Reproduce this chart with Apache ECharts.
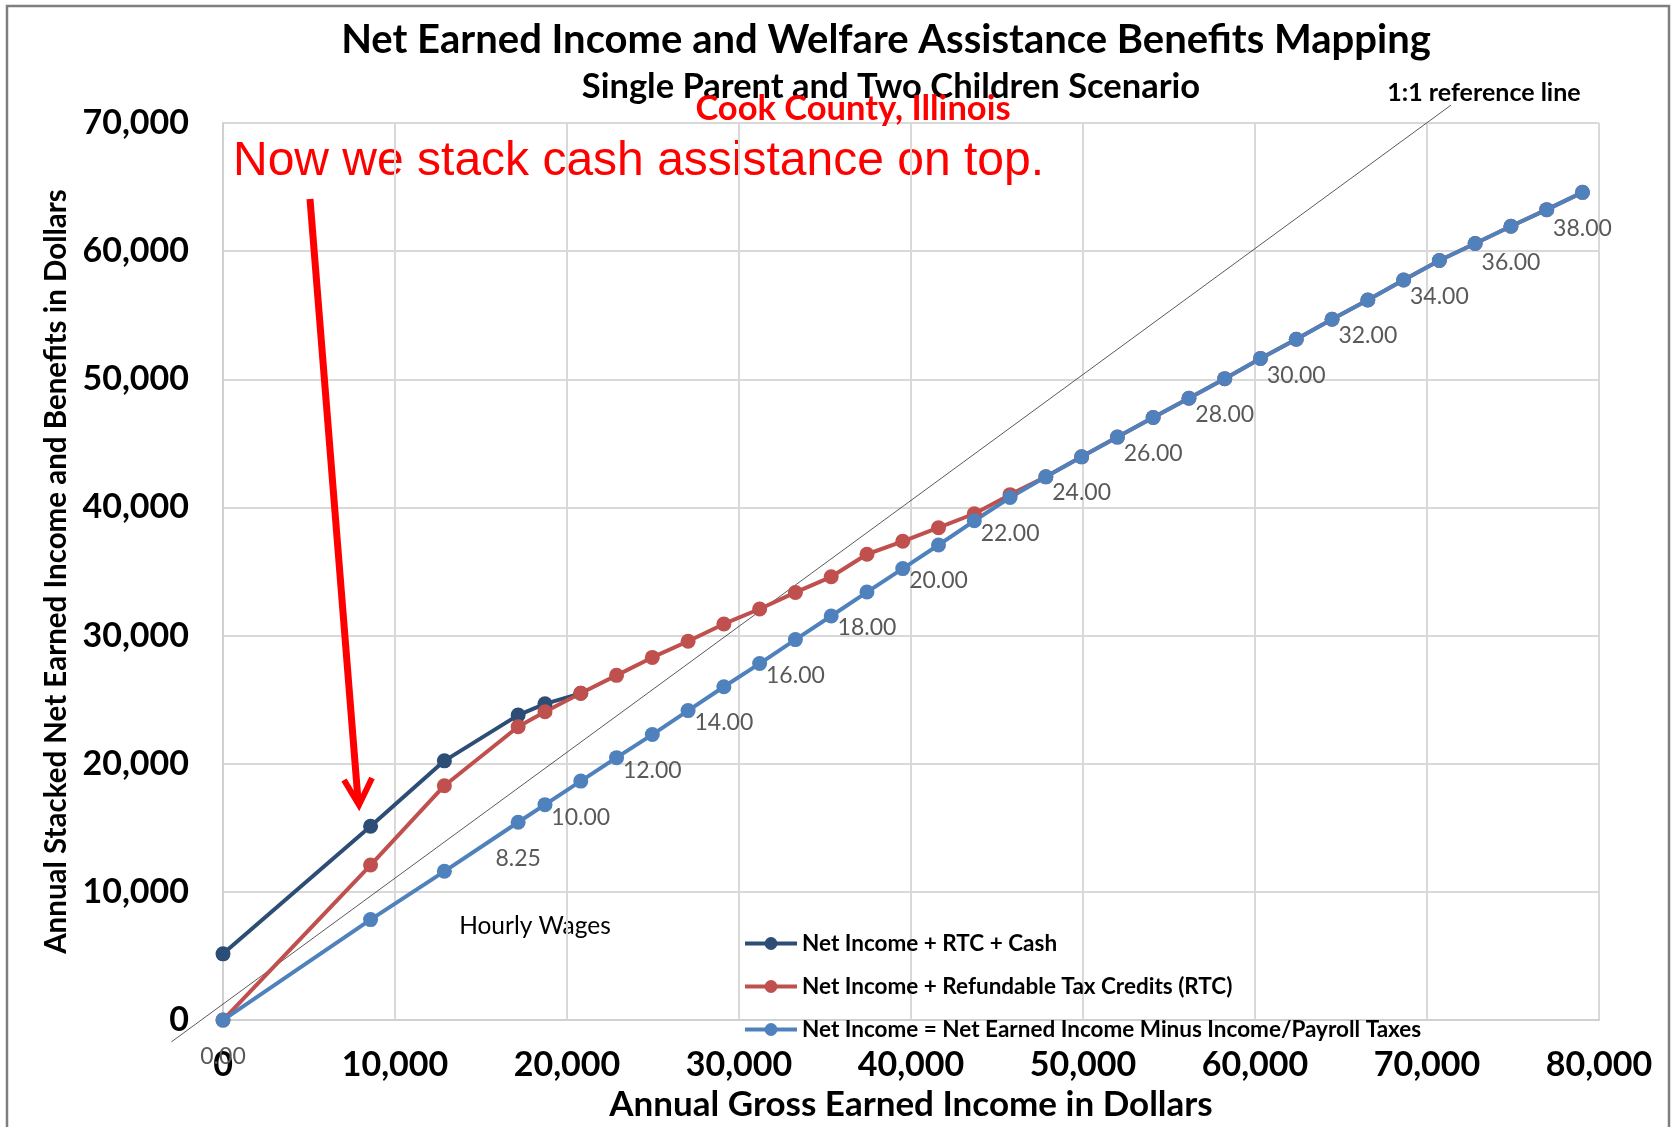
<!DOCTYPE html>
<html>
<head>
<meta charset="utf-8">
<title>Net Earned Income and Welfare Assistance Benefits Mapping</title>
<script src="https://cdn.jsdelivr.net/npm/echarts@6/dist/echarts.min.js"></script>
<style>
  html, body { margin: 0; padding: 0; background: #fff; }
  #main { width: 1671px; height: 1127px; }
</style>
</head>
<body>
<div id="main"></div>
<script>
// annual gross earned income (x) – same for all three series
var grossIncome = [0, 8580, 12870, 17160, 18720, 20800, 22880, 24960, 27040, 29120, 31200,
  33280, 35360, 37440, 39520, 41600, 43680, 45760, 47840, 49920, 52000, 54080, 56160,
  58240, 60320, 62400, 64480, 66560, 68640, 70720, 72800, 74880, 76960, 79040];

// Net Income = Net Earned Income Minus Income/Payroll Taxes
var netIncome = [0, 7840, 11610, 15440, 16810, 18650, 20480, 22280, 24150, 26010, 27820,
  29690, 31530, 33400, 35230, 37070, 38960, 40780, 42390, 43950, 45490, 47020, 48520,
  50050, 51630, 53130, 54690, 56190, 57750, 59270, 60600, 61940, 63240, 64590];

// Net Income + Refundable Tax Credits (RTC)
var netPlusRtc = [0, 12100, 18290, 22890, 24060, 25500, 26900, 28300, 29560, 30910, 32080,
  33370, 34590, 36350, 37360, 38420, 39510, 41000, 42390, 43950, 45490, 47020, 48520,
  50050, 51630, 53130, 54690, 56190, 57750, 59270, 60600, 61940, 63240, 64590];

// Net Income + RTC + Cash (only where it differs)
var netPlusRtcCash = [5170, 15130, 20230, 23800, 24680, 25500];

// hourly wage labels shown under the net income points
var wageLabels = ['0.00', '', '', '8.25', '', '10.00', '', '12.00', '', '14.00', '',
  '16.00', '', '18.00', '', '20.00', '', '22.00', '', '24.00', '', '26.00', '', '28.00', '',
  '30.00', '', '32.00', '', '34.00', '', '36.00', '', '38.00'];

// 1:1 reference line end points
var refLine = [[-3000, -1700], [71400, 71400]];

var xTicks = [0, 80000, 10000];   // min, max, interval
var yTicks = [0, 70000, 10000];

var seriesNames = ['Net Income + RTC + Cash',
  'Net Income + Refundable Tax Credits (RTC)',
  'Net Income = Net Earned Income Minus Income/Payroll Taxes'];

function pairs(ys) {
  return ys.map(function (y, i) { return [grossIncome[i], y]; });
}

var myChart = echarts.init(document.getElementById('main'));

var calibri = 'Lato, "Open Sans", sans-serif';

var option = {
  backgroundColor: '#ffffff',
  animation: false,
  grid: { left: 223, right: 72, top: 123, bottom: 102 },
  legend: {
    orient: 'vertical',
    left: 738,
    top: 927,
    padding: 5,
    itemWidth: 52,
    itemHeight: 16,
    itemGap: 20,
    lineStyle: { width: 4 },
    textStyle: { fontFamily: calibri, fontWeight: 'bold', fontSize: 22.5, color: '#000' },
    data: seriesNames
  },
  xAxis: {
    type: 'value',
    min: xTicks[0], max: xTicks[1], interval: xTicks[2],
    name: 'Annual Gross Earned Income in Dollars',
    nameLocation: 'middle',
    nameGap: 59,
    nameTextStyle: { fontFamily: calibri, fontWeight: 'bold', fontSize: 35, color: '#000' },
    axisLine: { show: true, lineStyle: { color: '#d0d0d0', width: 2 } },
    axisTick: { show: false },
    splitLine: { lineStyle: { color: '#d9d9d9', width: 2 } },
    axisLabel: {
      margin: 28,
      fontFamily: calibri, fontWeight: 'bold', fontSize: 34, color: '#000',
      formatter: function (v) { return v.toLocaleString('en-US'); }
    }
  },
  yAxis: {
    type: 'value',
    min: yTicks[0], max: yTicks[1], interval: yTicks[2],
    name: 'Annual Stacked Net Earned Income and Benefits in Dollars',
    nameLocation: 'middle',
    nameGap: 146,
    nameTextStyle: { fontFamily: calibri, fontWeight: 'bold', fontSize: 29.5, color: '#000' },
    axisLine: { show: true, lineStyle: { color: '#d0d0d0', width: 2 } },
    axisTick: { show: false },
    splitLine: { lineStyle: { color: '#d9d9d9', width: 2 } },
    axisLabel: {
      margin: 34,
      fontFamily: calibri, fontWeight: 'bold', fontSize: 34, color: '#000',
      formatter: function (v) { return v.toLocaleString('en-US'); }
    }
  },
  series: [
    {
      name: seriesNames[0],
      type: 'line',
      data: pairs(netPlusRtcCash),
      symbol: 'circle',
      symbolSize: 15,
      color: '#2C4D75',
      lineStyle: { width: 4 }
    },
    {
      name: seriesNames[1],
      type: 'line',
      data: pairs(netPlusRtc),
      symbol: 'circle',
      symbolSize: 15,
      color: '#C0504D',
      lineStyle: { width: 4 }
    },
    {
      name: seriesNames[2],
      type: 'line',
      data: pairs(netIncome),
      symbol: 'circle',
      symbolSize: 15,
      color: '#4F81BD',
      lineStyle: { width: 4 },
      label: {
        show: true,
        position: 'bottom',
        distance: 17,
        fontFamily: calibri,
        fontSize: 23,
        color: '#595959',
        formatter: function (p) { return wageLabels[p.dataIndex]; }
      }
    }
  ],
  graphic: [
    // outer frame
    { type: 'rect', shape: { x: 7, y: 6, width: 1662, height: 1140 },
      style: { fill: 'none', stroke: '#7f7f7f', lineWidth: 2.5 }, z: 0 },
    { type: 'text', x: 886, y: 40,
      style: { text: 'Net Earned Income and Welfare Assistance Benefits Mapping',
        align: 'center', verticalAlign: 'middle',
        font: 'bold 40px ' + calibri, fill: '#000' } },
    { type: 'text', x: 891, y: 87,
      style: { text: 'Single Parent and Two Children Scenario',
        align: 'center', verticalAlign: 'middle',
        font: 'bold 34.5px ' + calibri, fill: '#000' } },
    { type: 'text', x: 853, y: 109, z: 10,
      style: { text: 'Cook County, Illinois',
        align: 'center', verticalAlign: 'middle',
        font: 'bold 34.5px ' + calibri, fill: '#FF0000' } },
    { type: 'text', x: 1484, y: 93,
      style: { text: '1:1 reference line',
        align: 'center', verticalAlign: 'middle',
        font: 'bold 25px ' + calibri, fill: '#000' } },
    { type: 'text', x: 233, y: 162,
      style: { text: 'Now we stack cash assistance on top.',
        align: 'left', verticalAlign: 'middle',
        font: '48px "Liberation Sans", Arial, sans-serif', fill: '#FF0000' } },
    { type: 'text', x: 535, y: 926,
      style: { text: 'Hourly Wages',
        align: 'center', verticalAlign: 'middle',
        font: '24.5px ' + calibri, fill: '#000' } },
    // red arrow
    { type: 'polyline', z: 10, shape: { points: [[310, 199], [358, 800]] },
      style: { stroke: '#FF0000', lineWidth: 7, fill: 'none' } },
    { type: 'polyline', z: 10, shape: { points: [[344, 780], [359, 805], [372, 778]] },
      style: { stroke: '#FF0000', lineWidth: 6, fill: 'none', lineJoin: 'miter' } }
  ]
};

myChart.setOption(option);

// 1:1 reference line, placed through the chart's own scales (runs past the axes)
var p0 = myChart.convertToPixel({ gridIndex: 0 }, refLine[0]);
var p1 = myChart.convertToPixel({ gridIndex: 0 }, refLine[1]);
var graphics = option.graphic.slice();
graphics.push({
  type: 'line', z: 1, silent: true,
  shape: { x1: p0[0], y1: p0[1], x2: p1[0], y2: p1[1] },
  style: { stroke: '#303030', lineWidth: 0.8 }
});
myChart.setOption({ graphic: graphics });
</script>
</body>
</html>
